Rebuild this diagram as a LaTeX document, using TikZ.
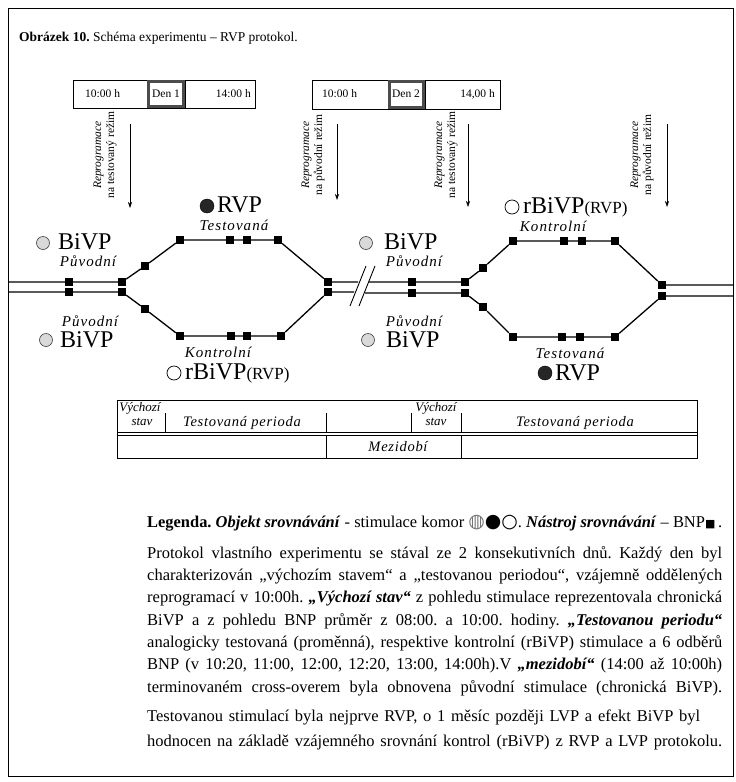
\documentclass[tikz,border=0pt]{standalone}
\usepackage{fontspec}
\setmainfont{Liberation Serif}
\newfontfamily\symfont{DejaVu Sans}
\usepackage{graphicx}
\usetikzlibrary{arrows.meta}
\frenchspacing
\newsavebox\fitbox
\newcommand\fitto[2]{\sbox\fitbox{#2}\ifdim\wd\fitbox>#1\relax\resizebox{#1}{\height}{\usebox\fitbox}\else\hbox to #1{\unhbox\fitbox}\fi}
\newcommand\symdot{{\symfont\fontsize{19}{19}\selectfont\color{black!55}◍}}
\newcommand\symdark{{\symfont\fontsize{19}{19}\selectfont ●}}
\newcommand\symopen{{\symfont\fontsize{19}{19}\selectfont ○}}
\newcommand\symsq{{\symfont\fontsize{11}{11}\selectfont ■}}
\begin{document}
\begin{tikzpicture}[x=1pt,y=-1pt,
  sq/.style={fill=black,minimum size=8pt,inner sep=0pt,draw=none},
  conn/.style={line width=1.3pt},
  arr/.style={line width=0.6pt,-{Stealth[length=6pt,width=4pt]}},
  lab/.style={font=\fontsize{24}{24}\selectfont,inner sep=0pt,anchor=west},
  sublab/.style={font=\fontsize{15}{15}\selectfont\itshape\addfontfeature{LetterSpace=7},inner sep=0pt},
  rot/.style={rotate=90,align=center,font=\fontsize{11.5}{13}\selectfont,inner sep=0pt},
  tbox/.style={font=\fontsize{11.5}{11.5}\selectfont,inner sep=0pt},
  tab/.style={font=\fontsize{13}{14}\selectfont\itshape,inner sep=0pt},
  tabw/.style={font=\fontsize{14.5}{15}\selectfont\itshape\addfontfeature{LetterSpace=5},inner sep=0pt},
  dotc/.style={circle,minimum size=13pt,inner sep=0pt,fill=gray!30,draw=black!75,line width=0.6pt},
  darkc/.style={circle,minimum size=14pt,inner sep=0pt,fill=black!85,draw=black},
  openc/.style={circle,minimum size=14pt,inner sep=0pt,draw=black,line width=0.7pt},
  para/.style={anchor=base west,inner sep=0pt,font=\fontsize{16.5}{18}\selectfont}
]
\fill[white] (0,0) rectangle (736,782);
\useasboundingbox (0,0) rectangle (736,782);
% frame
\draw[line width=0.8pt] (8,8) rectangle (733,776);
% title
\node[anchor=base west,inner sep=0pt,font=\fontsize{13.5}{15}\selectfont] (title) at (19,41) {\textbf{Obrázek 10.} Schéma experimentu – RVP protokol.};

% ---- top boxes
\draw[line width=0.8pt] (73,80) rectangle (255,108);
\draw[line width=0.8pt] (147,80) -- (147,108) (185,80) -- (185,108);
\draw[line width=2.5pt,black!70] (148.5,81.5) rectangle (183.5,106.5);
\node[tbox,anchor=west] (t1a) at (85,94) {10:00 h};
\node[tbox] (t1b) at (166,94) {Den 1};
\node[tbox,anchor=east] (t1c) at (251,94) {14:00 h};
\draw[line width=0.8pt] (312,80) rectangle (500,109);
\draw[line width=0.8pt] (388,80) -- (388,109) (425,80) -- (425,109);
\draw[line width=2.5pt,black!70] (389.5,81.5) rectangle (423.5,107.5);
\node[tbox,anchor=west] (t2a) at (322,94) {10:00 h};
\node[tbox] (t2b) at (406,94) {Den 2};
\node[tbox,anchor=east] (t2c) at (495,94) {14,00 h};

% ---- arrows and rotated labels
\coordinate (a1s) at (130,124); \coordinate (a1e) at (130,208);
\coordinate (a2s) at (337,124); \coordinate (a2e) at (337,200);
\coordinate (a3s) at (468,124); \coordinate (a3e) at (468,207);
\coordinate (a4s) at (667,124); \coordinate (a4e) at (667,207);
\draw[arr] (a1s) -- (a1e);
\draw[arr] (a2s) -- (a2e);
\draw[arr] (a3s) -- (a3e);
\draw[arr] (a4s) -- (a4e);
\node[rot] (r1) at (105,155) {\textit{Reprogramace}\\na testovaný režim};
\node[rot] (r2) at (313,155) {\textit{Reprogramace}\\na původní režim};
\node[rot] (r3) at (446,155) {\textit{Reprogramace}\\na testovaný režim};
\node[rot] (r4) at (642,155) {\textit{Reprogramace}\\na původní režim};

% ---- day 1 squares
\node[sq] (d1L1) at (69,282) {};
\node[sq] (d1L2) at (69,292) {};
\node[sq] (d1M1) at (122,282) {};
\node[sq] (d1M2) at (122,292) {};
\node[sq] (d1U) at (145,266) {};
\node[sq] (d1T1) at (180,240) {};
\node[sq] (d1T2) at (230,240) {};
\node[sq] (d1T3) at (247,240) {};
\node[sq] (d1T4) at (278,240) {};
\node[sq] (d1R1) at (328,282) {};
\node[sq] (d1R2) at (328,292) {};
\node[sq] (d1D) at (145,309) {};
\node[sq] (d1B1) at (180,336) {};
\node[sq] (d1B2) at (231,336) {};
\node[sq] (d1B3) at (247,336) {};
\node[sq] (d1B4) at (281,336) {};
% ---- day 2 squares
\node[sq] (d2L1) at (412,282) {};
\node[sq] (d2L2) at (412,293) {};
\node[sq] (d2M1) at (465,282) {};
\node[sq] (d2M2) at (465,293) {};
\node[sq] (d2U) at (483,268) {};
\node[sq] (d2T1) at (513,241) {};
\node[sq] (d2T2) at (564,241) {};
\node[sq] (d2T3) at (582,241) {};
\node[sq] (d2T4) at (615,241) {};
\node[sq] (d2R1) at (662,285) {};
\node[sq] (d2R2) at (662,296) {};
\node[sq] (d2D) at (483,307) {};
\node[sq] (d2B1) at (513,337) {};
\node[sq] (d2B2) at (562,337) {};
\node[sq] (d2B3) at (580,337) {};
\node[sq] (d2B4) at (615,337) {};

\coordinate (lf1) at (8,282); \coordinate (lf2) at (8,292);
\coordinate (rf1) at (733,285); \coordinate (rf2) at (733,296);
\coordinate (sl1) at (358,282); \coordinate (sl2) at (354,292);
\coordinate (sr1) at (369,282); \coordinate (sr2) at (365,293);
\coordinate (sA1) at (350,306); \coordinate (sA2) at (366,266);
\coordinate (sB1) at (359,306); \coordinate (sB2) at (375,266);

\draw[conn] (lf1) -- (d1L1) -- (d1M1) -- (d1U) -- (d1T1) -- (d1T2) -- (d1T3) -- (d1T4) -- (d1R1) -- (sl1);
\draw[conn] (lf2) -- (d1L2) -- (d1M2) -- (d1D) -- (d1B1) -- (d1B2) -- (d1B3) -- (d1B4) -- (d1R2) -- (sl2);
\draw[conn] (sr1) -- (d2L1) -- (d2M1) -- (d2U) -- (d2T1) -- (d2T2) -- (d2T3) -- (d2T4) -- (d2R1) -- (rf1);
\draw[conn] (sr2) -- (d2L2) -- (d2M2) -- (d2D) -- (d2B1) -- (d2B2) -- (d2B3) -- (d2B4) -- (d2R2) -- (rf2);
\draw[line width=0.9pt] (sA1) -- (sA2);
\draw[line width=0.9pt] (sB1) -- (sB2);

% ---- day 1 labels
\node[dotc] (c1) at (43,243) {};
\node[lab] (l1) at (58,242) {BiVP};
\node[sublab] (s1) at (88,261) {Původní};
\node[sublab] (s2) at (90,321) {Původní};
\node[dotc] (c2) at (46,340) {};
\node[lab] (l2) at (60,340) {BiVP};
\node[darkc] (c3) at (207,206) {};
\node[lab] (l3) at (217,205) {RVP};
\node[sublab] (s3) at (234,225) {Testovaná};
\node[sublab] (s4) at (218,352) {Kontrolní};
\node[openc] (c4) at (174,373) {};
\node[lab] (l4) at (185,373) {rBiVP{\fontsize{17}{17}\selectfont(RVP)}};
% ---- day 2 labels
\node[openc] (c5) at (512,207) {};
\node[lab] (l5) at (523,207) {rBiVP{\fontsize{17}{17}\selectfont(RVP)}};
\node[sublab] (s5) at (553,226) {Kontrolní};
\node[dotc] (c6) at (366,243) {};
\node[lab] (l6) at (384,242) {BiVP};
\node[sublab] (s6) at (414,261) {Původní};
\node[sublab] (s7) at (414,321) {Původní};
\node[dotc] (c7) at (368,340) {};
\node[lab] (l7) at (386,340) {BiVP};
\node[sublab] (s8) at (570,353) {Testovaná};
\node[darkc] (c8) at (545,373) {};
\node[lab] (l8) at (555,373) {RVP};

% ---- table
\draw[line width=0.8pt] (117,400) rectangle (697,458);
\draw[line width=0.8pt] (117,432) -- (697,432) (117,435) -- (697,435);
\draw[line width=0.8pt] (165,413) -- (165,432) (326,413) -- (326,432) (411,413) -- (411,432) (461,413) -- (461,432);
\draw[line width=0.8pt] (326,435) -- (326,458) (461,435) -- (461,458);
\node[tab] (v1) at (140,408) {Výchozí};
\node[tab] (v2) at (142,422) {stav};
\node[tabw] (tp1) at (242,423) {Testovaná perioda};
\node[tab] (v3) at (436,408) {Výchozí};
\node[tab] (v4) at (436,422) {stav};
\node[tabw] (tp2) at (575,423) {Testovaná perioda};
\node[tabw] (mz) at (398,447) {Mezidobí};

% ---- legend and text
\node[para] (leg) at (147,527) {\fitto{575pt}{\textbf{Legenda.} \textbf{\textit{Objekt srovnávání}} - stimulace komor \symdot\symdark\symopen. \textbf{\textit{Nástroj srovnávání}} – BNP\symsq\,.}};
\node[para] (p1) at (147,558) {\fitto{575pt}{Protokol vlastního experimentu se stával ze 2 konsekutivních dnů. Každý den byl}};
\node[para] (p2) at (147,580) {\fitto{575pt}{charakterizován „výchozím stavem“ a „testovanou periodou“, vzájemně oddělených}};
\node[para] (p3) at (147,602) {\fitto{575pt}{reprogramací v 10:00h. \textbf{\textit{„Výchozí stav“}} z pohledu stimulace reprezentovala chronická}};
\node[para] (p4) at (147,625) {\fitto{575pt}{BiVP a z pohledu BNP průměr z 08:00. a 10:00. hodiny. \textbf{\textit{„Testovanou periodu“}}}};
\node[para] (p5) at (147,647) {\fitto{575pt}{analogicky testovaná (proměnná), respektive kontrolní (rBiVP) stimulace a 6 odběrů}};
\node[para] (p6) at (147,669) {\fitto{575pt}{BNP (v 10:20, 11:00, 12:00, 12:20, 13:00, 14:00h).V \textbf{\textit{„mezidobí“}} (14:00 až 10:00h)}};
\node[para] (p7) at (147,692) {\fitto{575pt}{terminovaném cross-overem byla obnovena původní stimulace (chronická BiVP).}};
\node[para] (p8) at (147,721) {\fitto{553pt}{Testovanou stimulací byla nejprve RVP, o 1 měsíc později LVP a efekt BiVP byl}};
\node[para] (p9) at (147,746) {\fitto{575pt}{hodnocen na základě vzájemného srovnání kontrol (rBiVP) z RVP a LVP protokolu.}};
\end{tikzpicture}
\end{document}
